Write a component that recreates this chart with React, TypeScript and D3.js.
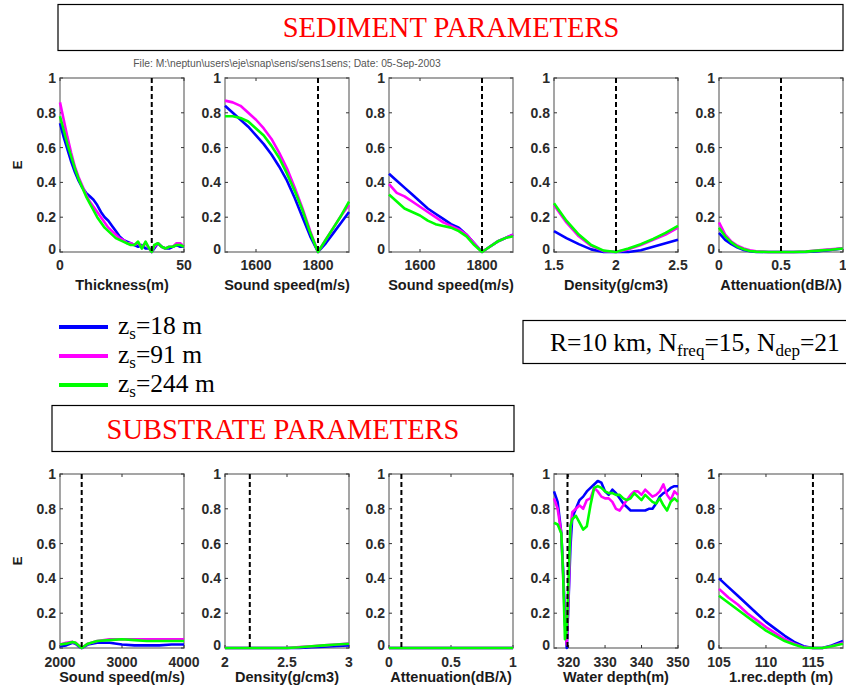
import React from 'react';
import * as d3 from 'd3';

// Source depths of the three sensitivity curves and their colours
const SOURCE_DEPTHS = ['18', '91', '244'];
const SERIES_COLORS = ['#0000ff', '#ff00ff', '#00ff00'];

const Y_TICKS = [0, 0.2, 0.4, 0.6, 0.8, 1];

// ---- Sediment: thickness (m)
const thickX = [0, 1.5, 3, 4.5, 6, 7.5, 9, 10.5, 12, 13.5, 15, 16.5, 18, 19.5, 21, 22.5, 24, 25.5, 27, 28.5, 30, 31.5, 33, 34.5, 36, 37, 38, 39.5, 41, 42.5, 44, 45.5, 47, 48.5, 50];
const thickZ18 = [0.74, 0.66, 0.59, 0.52, 0.46, 0.41, 0.37, 0.34, 0.32, 0.3, 0.27, 0.23, 0.2, 0.18, 0.15, 0.12, 0.09, 0.07, 0.06, 0.05, 0.04, 0.03, 0.04, 0.02, 0.02, 0.0, 0.02, 0.05, 0.03, 0.02, 0.02, 0.03, 0.04, 0.03, 0.03];
const thickZ91 = [0.86, 0.76, 0.66, 0.57, 0.49, 0.43, 0.38, 0.33, 0.29, 0.26, 0.23, 0.2, 0.17, 0.14, 0.12, 0.1, 0.08, 0.07, 0.05, 0.05, 0.04, 0.05, 0.03, 0.05, 0.02, 0.0, 0.03, 0.05, 0.03, 0.02, 0.03, 0.03, 0.05, 0.05, 0.03];
const thickZ244 = [0.78, 0.7, 0.62, 0.55, 0.48, 0.42, 0.37, 0.32, 0.28, 0.24, 0.2, 0.17, 0.14, 0.12, 0.1, 0.08, 0.07, 0.06, 0.05, 0.04, 0.04, 0.06, 0.02, 0.06, 0.02, 0.0, 0.04, 0.05, 0.03, 0.02, 0.03, 0.03, 0.04, 0.04, 0.03];

// ---- Sediment: sound speed (m/s), two panels
const speedX = [1500, 1525, 1550, 1575, 1600, 1625, 1650, 1675, 1700, 1725, 1750, 1775, 1800, 1825, 1850, 1875, 1900];
const speedAZ18 = [0.84, 0.8, 0.76, 0.72, 0.67, 0.62, 0.56, 0.49, 0.41, 0.31, 0.2, 0.09, 0, 0.05, 0.11, 0.17, 0.23];
const speedAZ91 = [0.87, 0.86, 0.84, 0.8, 0.76, 0.71, 0.65, 0.57, 0.48, 0.37, 0.25, 0.12, 0, 0.07, 0.14, 0.21, 0.27];
const speedAZ244 = [0.78, 0.78, 0.77, 0.75, 0.71, 0.67, 0.61, 0.54, 0.45, 0.35, 0.24, 0.11, 0, 0.07, 0.14, 0.21, 0.29];
const speedBZ18 = [0.45, 0.41, 0.37, 0.33, 0.29, 0.25, 0.22, 0.19, 0.16, 0.14, 0.1, 0.05, 0, 0.03, 0.06, 0.08, 0.1];
const speedBZ91 = [0.39, 0.34, 0.32, 0.29, 0.26, 0.23, 0.2, 0.17, 0.15, 0.13, 0.1, 0.05, 0, 0.03, 0.06, 0.08, 0.1];
const speedBZ244 = [0.33, 0.29, 0.25, 0.23, 0.21, 0.18, 0.16, 0.15, 0.14, 0.12, 0.09, 0.04, 0, 0.03, 0.06, 0.08, 0.09];

// ---- Sediment: density (g/cm3)
const densX = [1.5, 1.6, 1.7, 1.8, 1.9, 2.0, 2.1, 2.2, 2.3, 2.4, 2.5];
const densZ18 = [0.12, 0.08, 0.045, 0.015, 0, 0, 0, 0.01, 0.03, 0.05, 0.07];
const densZ91 = [0.27, 0.17, 0.09, 0.035, 0.005, 0, 0.015, 0.04, 0.07, 0.1, 0.14];
const densZ244 = [0.28, 0.18, 0.1, 0.04, 0.008, 0, 0.02, 0.045, 0.075, 0.11, 0.15];

// ---- Sediment: attenuation (dB/λ)
const attX = [0, 0.05, 0.1, 0.15, 0.2, 0.25, 0.3, 0.4, 0.5, 0.6, 0.7, 0.8, 0.9, 1.0];
const attZ18 = [0.11, 0.07, 0.045, 0.025, 0.012, 0.004, 0, 0, 0, 0, 0, 0.005, 0.012, 0.02];
const attZ91 = [0.17, 0.1, 0.06, 0.036, 0.02, 0.01, 0.004, 0, 0, 0, 0.003, 0.01, 0.015, 0.022];
const attZ244 = [0.14, 0.09, 0.055, 0.03, 0.016, 0.006, 0.002, 0, 0, 0, 0.002, 0.008, 0.013, 0.02];

// ---- Substrate: sound speed (m/s)
const subSpeedX = [2000, 2100, 2200, 2250, 2300, 2350, 2450, 2600, 2800, 3000, 3200, 3400, 3600, 3800, 4000];
const subSpeedZ18 = [0.01, 0.015, 0.03, 0.025, 0.01, 0, 0.02, 0.03, 0.03, 0.02, 0.015, 0.015, 0.015, 0.02, 0.02];
const subSpeedZ91 = [0.02, 0.03, 0.035, 0.03, 0.015, 0, 0.025, 0.04, 0.05, 0.05, 0.05, 0.05, 0.05, 0.05, 0.05];
const subSpeedZ244 = [0.02, 0.025, 0.035, 0.03, 0.015, 0, 0.025, 0.04, 0.045, 0.05, 0.045, 0.04, 0.04, 0.04, 0.04];

// ---- Substrate: density (g/cm3)
const subDensX = [2, 2.2, 2.4, 2.5, 2.6, 2.7, 2.8, 2.9, 3];
const subDensZ18 = [0, 0, 0, 0, 0, 0.004, 0.008, 0.012, 0.015];
const subDensZ91 = [0, 0, 0, 0, 0.005, 0.01, 0.015, 0.02, 0.025];
const subDensZ244 = [0, 0, 0, 0, 0.004, 0.01, 0.015, 0.02, 0.024];

// ---- Substrate: attenuation (dB/λ)
const subAttX = [0, 0.25, 0.5, 0.75, 1];
const subAttZ18 = [0, 0, 0, 0, 0];
const subAttZ91 = [0, 0, 0, 0, 0];
const subAttZ244 = [0, 0, 0, 0, 0];

// ---- Water depth (m)
const depthX = [316, 317, 318, 318.5, 319, 319.5, 320, 320.5, 321, 322, 323, 324, 325, 326, 327, 328, 329, 330, 331, 332, 333, 334, 335, 336, 337, 338, 339, 340, 341, 342, 343, 344, 345, 346, 347, 348, 349, 350];
const depthZ18 = [0.9, 0.84, 0.66, 0.45, 0.18, 0, 0.28, 0.58, 0.75, 0.8, 0.85, 0.87, 0.9, 0.92, 0.94, 0.96, 0.95, 0.9, 0.88, 0.91, 0.89, 0.86, 0.83, 0.81, 0.79, 0.79, 0.79, 0.79, 0.79, 0.8, 0.8, 0.83, 0.87, 0.89, 0.9, 0.92, 0.93, 0.93];
const depthZ91 = [0.86, 0.8, 0.66, 0.42, 0.14, 0.02, 0.3, 0.68, 0.78, 0.8, 0.82, 0.8, 0.85, 0.86, 0.92, 0.9, 0.87, 0.86, 0.86, 0.84, 0.8, 0.79, 0.82, 0.85, 0.88, 0.9, 0.9, 0.88, 0.91, 0.89, 0.87, 0.88, 0.9, 0.94, 0.88, 0.85, 0.9, 0.88];
const depthZ244 = [0.72, 0.71, 0.66, 0.42, 0.05, 0.1, 0.4, 0.7, 0.74, 0.76, 0.72, 0.68, 0.7, 0.82, 0.92, 0.93, 0.92, 0.9, 0.89, 0.89, 0.88, 0.88, 0.86, 0.85, 0.86, 0.89, 0.87, 0.85, 0.88, 0.86, 0.84, 0.83, 0.86, 0.82, 0.79, 0.84, 0.86, 0.84];

// ---- First receiver depth (m)
const recX = [105, 106, 107, 108, 109, 110, 111, 112, 113, 114, 115, 116, 117, 118.2];
const recZ18 = [0.4, 0.35, 0.3, 0.25, 0.2, 0.15, 0.11, 0.07, 0.035, 0.01, 0, 0, 0.015, 0.04];
const recZ91 = [0.34, 0.29, 0.25, 0.2, 0.16, 0.12, 0.085, 0.05, 0.025, 0.005, 0, 0, 0.01, 0.03];
const recZ244 = [0.3, 0.26, 0.22, 0.18, 0.14, 0.1, 0.07, 0.04, 0.02, 0.003, 0, 0, 0.01, 0.025];

// Axis settings per panel
const sedimentLabels = ['Thickness(m)', 'Sound speed(m/s)', 'Sound speed(m/s)', 'Density(g/cm3)', 'Attenuation(dB/λ)'];
const sedimentDomains: [number, number][] = [[0, 50], [1500, 1900], [1500, 1900], [1.5, 2.5], [0, 1]];
const sedimentTicks = [[0, 50], [1600, 1800], [1600, 1800], [1.5, 2, 2.5], [0, 0.5, 1]];
const sedimentTrue = [37, 1800, 1800, 2, 0.5];

const substrateLabels = ['Sound speed(m/s)', 'Density(g/cm3)', 'Attenuation(dB/λ)', 'Water depth(m)', '1.rec.depth (m)'];
const substrateDomains: [number, number][] = [[2000, 4000], [2, 3], [0, 1], [316, 350], [105, 118.2]];
const substrateTicks = [[2000, 3000, 4000], [2, 2.5, 3], [0, 0.5, 1], [320, 330, 340, 350], [105, 110, 115]];
const substrateTrue = [2350, 2.2, 0.1, 319.7, 115];

type Panel = {
  x: number[];
  ys: number[][];
  domain: [number, number];
  ticks: number[];
  label: string;
  truth: number;
};

const sedimentPanels: Panel[] = [
  { x: thickX, ys: [thickZ18, thickZ91, thickZ244] },
  { x: speedX, ys: [speedAZ18, speedAZ91, speedAZ244] },
  { x: speedX, ys: [speedBZ18, speedBZ91, speedBZ244] },
  { x: densX, ys: [densZ18, densZ91, densZ244] },
  { x: attX, ys: [attZ18, attZ91, attZ244] },
].map((p, i) => ({ ...p, domain: sedimentDomains[i], ticks: sedimentTicks[i], label: sedimentLabels[i], truth: sedimentTrue[i] }));

const substratePanels: Panel[] = [
  { x: subSpeedX, ys: [subSpeedZ18, subSpeedZ91, subSpeedZ244] },
  { x: subDensX, ys: [subDensZ18, subDensZ91, subDensZ244] },
  { x: subAttX, ys: [subAttZ18, subAttZ91, subAttZ244] },
  { x: depthX, ys: [depthZ18, depthZ91, depthZ244] },
  { x: recX, ys: [recZ18, recZ91, recZ244] },
].map((p, i) => ({ ...p, domain: substrateDomains[i], ticks: substrateTicks[i], label: substrateLabels[i], truth: substrateTrue[i] }));

const PANEL_LEFTS = [60, 225, 389, 554, 719];
const PANEL_W = 124;
const PANEL_H = 174;
const SANS = 'Arial, "Liberation Sans", Helvetica, sans-serif';
const SERIF = '"Times New Roman", "Liberation Serif", Times, serif';

function PanelView({ p, left, top, showE, tickDy, labelDy }: { p: Panel; left: number; top: number; showE: boolean; tickDy: number; labelDy: number }) {
  const x = d3.scaleLinear().domain(p.domain).range([left, left + PANEL_W]);
  const y = d3.scaleLinear().domain([0, 1]).range([top + PANEL_H, top]);
  const line = d3
    .line<number>()
    .x((_, i) => x(p.x[i]))
    .y((d) => y(d));
  const bottom = top + PANEL_H;
  const right = left + PANEL_W;
  return (
    <g>
      <rect x={left} y={top} width={PANEL_W} height={PANEL_H} fill="#fff" stroke="#8f8f8f" strokeWidth={1.6} />
      {p.ticks.map((t) => (
        <g key={'xt' + t}>
          <line x1={x(t)} x2={x(t)} y1={top} y2={top + 3} stroke="#333" />
          <line x1={x(t)} x2={x(t)} y1={bottom} y2={bottom - 3} stroke="#333" />
          <text x={x(t)} y={bottom + tickDy} textAnchor="middle" fontFamily={SANS} fontWeight="bold" fontSize={14} fill="#2a2a2a">
            {String(t)}
          </text>
        </g>
      ))}
      {Y_TICKS.map((t) => (
        <g key={'yt' + t}>
          <line x1={left} x2={left + 3} y1={y(t)} y2={y(t)} stroke="#333" />
          <line x1={right} x2={right - 3} y1={y(t)} y2={y(t)} stroke="#333" />
          <text x={left - 4} y={y(t) + (t === 0 ? 2 : 5)} textAnchor="end" fontFamily={SANS} fontWeight="bold" fontSize={14} fill="#2a2a2a">
            {String(t)}
          </text>
        </g>
      ))}
      {p.ys.map((ys, i) => (
        <path key={i} d={line(ys) || ''} fill="none" stroke={SERIES_COLORS[i]} strokeWidth={2.6} strokeLinejoin="round" />
      ))}
      <line x1={x(p.truth)} x2={x(p.truth)} y1={top} y2={bottom} stroke="#000" strokeWidth={2} strokeDasharray="5,3" />
      <text x={(left + right) / 2} y={bottom + labelDy} textAnchor="middle" fontFamily={SANS} fontWeight="bold" fontSize={14.5} fill="#1a1a1a">
        {p.label}
      </text>
      {showE && (
        <text transform={`translate(${left - 38},${top + PANEL_H / 2}) rotate(-90)`} textAnchor="middle" fontFamily={SANS} fontWeight="bold" fontSize={13} fill="#1a1a1a">
          E
        </text>
      )}
    </g>
  );
}

export default function App() {
  return (
    <svg width={846} height={693} style={{ position: 'absolute', left: 0, top: 0, background: '#fff' }}>
      <rect x={0} y={0} width={846} height={693} fill="#fff" />
      {/* Section heading */}
      <rect x={58} y={4.5} width={785} height={46} fill="none" stroke="#000" strokeWidth={1.2} />
      <text x={451} y={37} textAnchor="middle" fontFamily={SERIF} fontSize={28.5} fill="#ff0000">
        SEDIMENT PARAMETERS
      </text>
      <text x={287} y={67} textAnchor="middle" fontFamily={SANS} fontSize={10.3} fill="#555">
        {'File: M:\\neptun\\users\\eje\\snap\\sens/sens1sens; Date: 05-Sep-2003'}
      </text>

      {sedimentPanels.map((p, i) => (
        <PanelView key={'s' + i} p={p} left={PANEL_LEFTS[i]} top={78} showE={i === 0} tickDy={18} labelDy={38} />
      ))}

      {/* Legend */}
      {SOURCE_DEPTHS.map((d, i) => (
        <g key={'lg' + i}>
          <line x1={59} x2={108} y1={327 + i * 29} y2={327 + i * 29} stroke={SERIES_COLORS[i]} strokeWidth={4} />
          <text x={118} y={334 + i * 29} fontFamily={SERIF} fontSize={25.5} fill="#000">
            z<tspan fontSize={17} dy={5}>s</tspan>
            <tspan dy={-5}>={d} m</tspan>
          </text>
        </g>
      ))}

      {/* Run parameters */}
      <rect x={523} y={320.5} width={330} height={43} fill="none" stroke="#000" strokeWidth={1.2} />
      <text x={550} y={351} fontFamily={SERIF} fontSize={25.5} fill="#000">
        R=10 km, N<tspan fontSize={17} dy={5}>freq</tspan>
        <tspan dy={-5}>=15, N</tspan>
        <tspan fontSize={17} dy={5}>dep</tspan>
        <tspan dy={-5}>=21</tspan>
      </text>

      {/* Substrate heading */}
      <rect x={52} y={405.5} width={462} height={46} fill="none" stroke="#000" strokeWidth={1.2} />
      <text x={283} y={439} textAnchor="middle" fontFamily={SERIF} fontSize={28.5} fill="#ff0000">
        SUBSTRATE PARAMETERS
      </text>

      {substratePanels.map((p, i) => (
        <PanelView key={'b' + i} p={p} left={PANEL_LEFTS[i]} top={474} showE={i === 0} tickDy={18.5} labelDy={34} />
      ))}
    </svg>
  );
}
